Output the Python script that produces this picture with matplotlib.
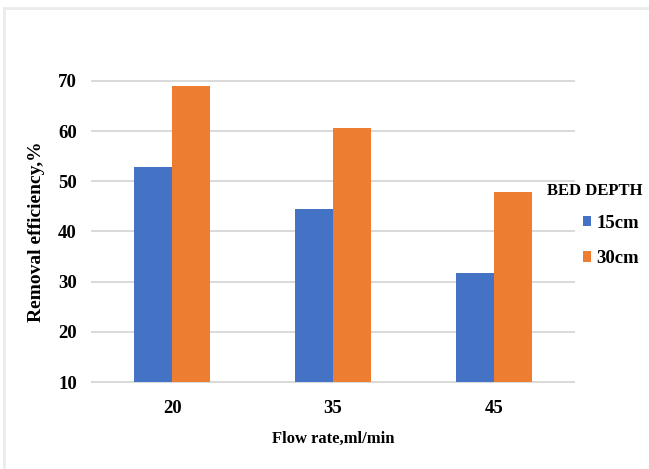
import numpy as np
import matplotlib.pyplot as plt
from matplotlib.lines import Line2D

plt.rcParams['font.family'] = ['Liberation Serif', 'DejaVu Serif']
plt.rcParams['font.weight'] = 'bold'

flow_rates = ['20', '35', '45']
depth_15cm = [52.9, 44.5, 31.7]
depth_30cm = [69.0, 60.6, 47.9]
series_names = ['15cm', '30cm']
colors = ['#4472C4', '#ED7D31']

fig = plt.figure(figsize=(6.49, 4.69), dpi=100)
ax = fig.add_axes([0.1418, 0.1855, 0.7426, 0.6418])

x = np.arange(len(flow_rates))
w = 0.236
ax.bar(x - w / 2, np.array(depth_15cm) - 10, w, bottom=10, color=colors[0],
       label=series_names[0], zorder=3)
ax.bar(x + w / 2, np.array(depth_30cm) - 10, w, bottom=10, color=colors[1],
       label=series_names[1], zorder=3)

ax.set_xlim(-0.5, 2.5)
ax.set_ylim(10, 70)
ax.set_yticks(range(10, 71, 10))
ax.set_xticks(x)
ax.set_xticklabels(flow_rates)
ax.tick_params(axis='both', length=0, labelsize=13.5)
ax.tick_params(axis='y', pad=11)
ax.tick_params(axis='x', pad=13)
ax.grid(axis='y', color='#d9d9d9', linewidth=1.4, zorder=0)
ax.set_axisbelow(True)
for side in ['top', 'right', 'left']:
    ax.spines[side].set_visible(False)
ax.spines['bottom'].set_color('#d9d9d9')
ax.spines['bottom'].set_linewidth(1.4)
for gl in ax.get_ygridlines():
    gl.set_clip_on(False)

ax.set_xlabel('Flow rate,ml/min', fontsize=12, fontweight='bold', labelpad=10)
ax.set_ylabel('Removal efficiency,%', fontsize=14, fontweight='bold', labelpad=9)

# legend title sits to the left of the indented entries
fig.text(547 / 649, 1 - 191 / 469, 'BED DEPTH', fontsize=12, fontweight='bold',
         ha='left', va='center')
leg = ax.legend(loc='upper left', bbox_to_anchor=(583 / 649, 1 - 215 / 469),
                bbox_transform=fig.transFigure, frameon=False, fontsize=13.5,
                handlelength=0.45, handleheight=0.45, handletextpad=0.25,
                labelspacing=0.97, borderaxespad=0, borderpad=0)

# thin frame on the top and left edges of the figure
fig.add_artist(Line2D([0.0065, 1.0], [0.983, 0.983], color='#ebebeb', linewidth=2,
                      transform=fig.transFigure))
fig.add_artist(Line2D([0.0065, 0.0065], [0.0, 0.983], color='#ebebeb', linewidth=2,
                      transform=fig.transFigure))

fig.savefig('out.png', dpi=100)
